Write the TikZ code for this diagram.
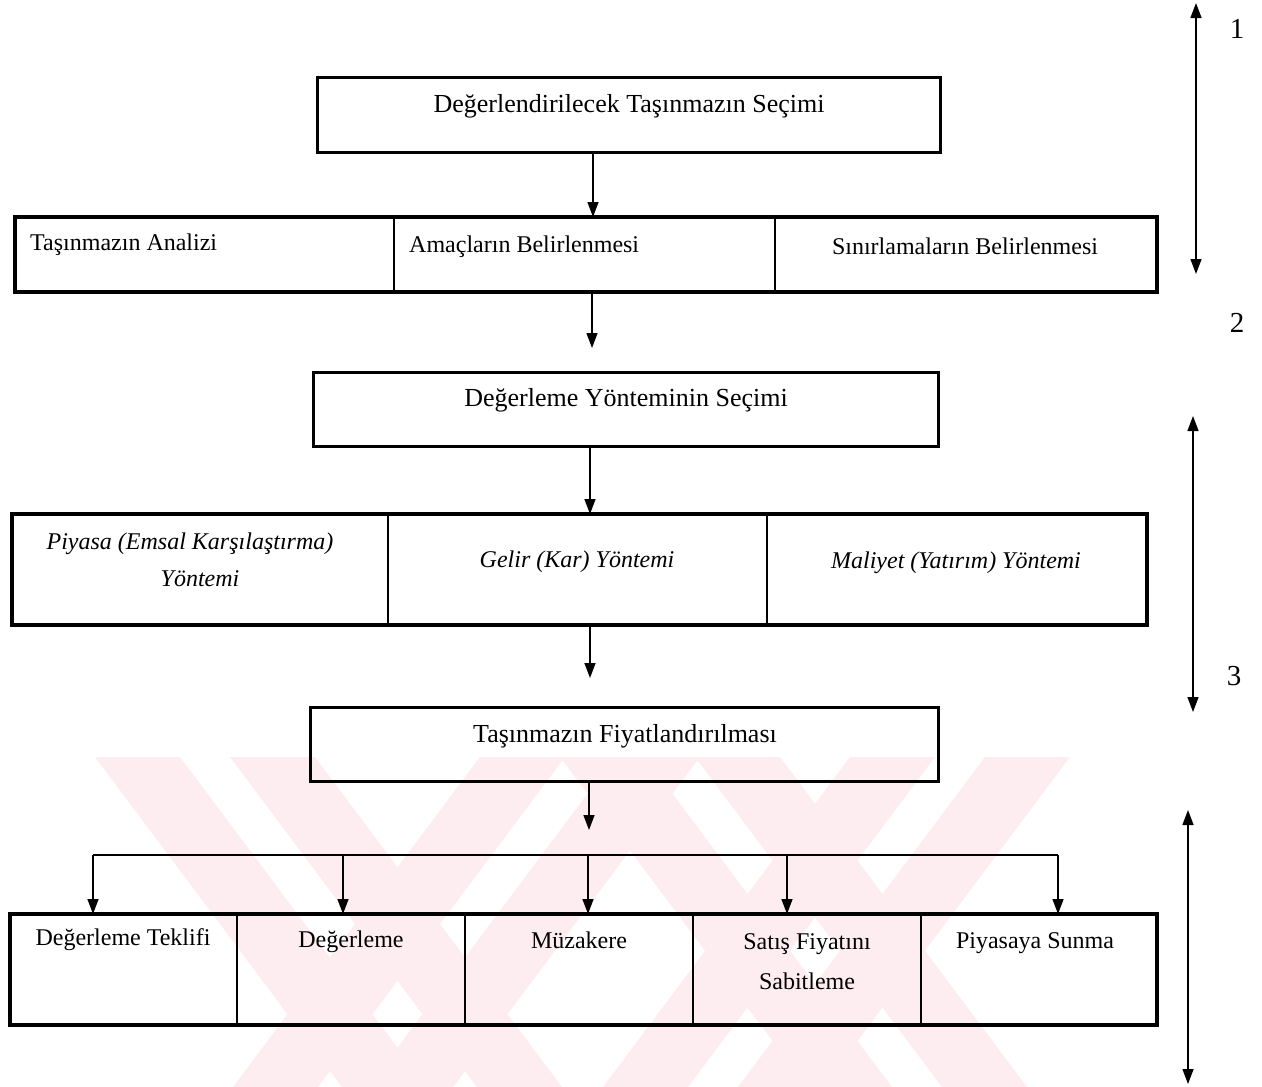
\documentclass[tikz,border=0pt]{standalone}
\usepackage{fontspec}
\setmainfont{Liberation Serif}
\usetikzlibrary{arrows.meta}

\definecolor{wmpink}{RGB}{253,236,240}

\tikzset{
  box/.style={draw, line width=3pt, inner sep=0pt, outer sep=0pt},
  frame/.style={draw, line width=3.4pt, inner sep=0pt, outer sep=0pt},
  cell/.style={draw, line width=1.4pt, inner sep=0pt, outer sep=0pt},
  boxtext/.style={font=\fontsize{26}{30}\selectfont, inner sep=0pt, anchor=base},
  celltext/.style={font=\fontsize{24}{28}\selectfont, inner sep=0pt, anchor=base},
  numtext/.style={font=\fontsize{29}{32}\selectfont, inner sep=0pt, anchor=base},
  conn/.style={line width=1.4pt, -{Triangle[length=15pt,width=11pt]}},
  bus/.style={line width=1.4pt},
  span/.style={line width=1.4pt, {Triangle[length=15pt,width=11pt]}-{Triangle[length=15pt,width=11pt]}},
  band/.style={fill=wmpink, draw=none},
}

\begin{document}
\begin{tikzpicture}[x=1pt, y=-1pt]
\useasboundingbox (0,0) rectangle (1262,1087);

% faint striped emblem behind the lower part
\begin{scope}
  \clip (0,757) rectangle (1262,1087);
  \foreach \a in {95,230,560,695}
    \fill[band] (\a,757) -- (\a+85,757) -- (\a+332,1087) -- (\a+247,1087) -- cycle;
  \foreach \a in {480,615,850,985}
    \fill[band] (\a,757) -- (\a+85,757) -- (\a-162,1087) -- (\a-247,1087) -- cycle;
\end{scope}

% ---------- step 1: selection of the property ----------
\node[box, minimum width=623pt, minimum height=75pt] (sel) at (628.5,114.5) {};
\node[boxtext] (selt) at (629,112) {Değerlendirilecek Taşınmazın Seçimi};

% analysis row
\node[cell, minimum width=379pt, minimum height=75pt] (r1a) at (204.5,254.5) {};
\node[cell, minimum width=381pt, minimum height=75pt] (r1b) at (584.5,254.5) {};
\node[cell, minimum width=382pt, minimum height=75pt] (r1c) at (966,254.5) {};
\node[frame, minimum width=1142pt, minimum height=75pt] (r1) at (586,254.5) {};
\node[celltext, anchor=base west] (r1at) at (30,250) {Taşınmazın Analizi};
\node[celltext, anchor=base west] (r1bt) at (409,252) {Amaçların Belirlenmesi};
\node[celltext] (r1ct) at (965,254) {Sınırlamaların Belirlenmesi};

% ---------- step 2: choice of valuation method ----------
\node[box, minimum width=625pt, minimum height=74pt] (meth) at (625.5,409) {};
\node[boxtext] (metht) at (626,406) {Değerleme Yönteminin Seçimi};

% method row
\node[cell, minimum width=376pt, minimum height=111pt] (r2a) at (200,569.5) {};
\node[cell, minimum width=379pt, minimum height=111pt] (r2b) at (577.5,569.5) {};
\node[cell, minimum width=380pt, minimum height=111pt] (r2c) at (957,569.5) {};
\node[frame, minimum width=1135pt, minimum height=111pt] (r2) at (579.5,569.5) {};
\node[celltext, font=\fontsize{24}{28}\selectfont\itshape] (r2at) at (190,549) {Piyasa (Emsal Karşılaştırma)};
\node[celltext, font=\fontsize{24}{28}\selectfont\itshape] (r2at2) at (200,586) {Yöntemi};
\node[celltext, font=\fontsize{24}{28}\selectfont\itshape] (r2bt) at (577,567) {Gelir (Kar) Yöntemi};
\node[celltext, font=\fontsize{24}{28}\selectfont\itshape] (r2ct) at (956,568) {Maliyet (Yatırım) Yöntemi};

% ---------- step 3: pricing ----------
\node[box, minimum width=628pt, minimum height=74pt] (price) at (624,744) {};
\node[boxtext] (pricet) at (625,742) {Taşınmazın Fiyatlandırılması};

% pricing row
\node[cell, minimum width=227pt, minimum height=111pt] (r3a) at (123.5,969.5) {};
\node[cell, minimum width=228pt, minimum height=111pt] (r3b) at (351,969.5) {};
\node[cell, minimum width=228pt, minimum height=111pt] (r3c) at (579,969.5) {};
\node[cell, minimum width=228pt, minimum height=111pt] (r3d) at (807,969.5) {};
\node[cell, minimum width=236pt, minimum height=111pt] (r3e) at (1039,969.5) {};
\node[frame, minimum width=1147pt, minimum height=111pt] (r3) at (583.5,969.5) {};
\node[celltext] (r3at) at (123,945) {Değerleme Teklifi};
\node[celltext] (r3bt) at (351,947) {Değerleme};
\node[celltext] (r3ct) at (579,948) {Müzakere};
\node[celltext] (r3dt) at (807,949) {Satış Fiyatını};
\node[celltext] (r3dt2) at (807,989) {Sabitleme};
\node[celltext] (r3et) at (1035,948) {Piyasaya Sunma};

% ---------- vertical flow ----------
\draw[conn] ([xshift=-35.5pt]sel.south) -- ([xshift=-35.5pt]sel.south |- r1.north);
\coordinate (a2) at (592,348);
\draw[conn] (a2 |- r1.south) -- (a2);
\draw[conn] ([xshift=-35.5pt]meth.south) -- ([xshift=-35.5pt]meth.south |- r2.north);
\coordinate (a4) at (590,678);
\draw[conn] (a4 |- r2.south) -- (a4);
\coordinate (a5) at (589,830);
\draw[conn] (a5 |- price.south) -- (a5);

% distribution bus to the pricing steps
\coordinate (b1) at (93,855);
\coordinate (b2) at (343,855);
\coordinate (b3) at (588,855);
\coordinate (b4) at (787,855);
\coordinate (b5) at (1058,855);
\draw[bus] (b1) -- (b5);
\foreach \b in {b1,b2,b3,b4,b5}
  \draw[conn] (\b) -- (\b |- r3.north);

% ---------- phase markers on the right ----------
\coordinate (s1t) at (1196,3);
\coordinate (s1b) at (1196,274);
\draw[span] (s1t) -- (s1b);
\coordinate (s2t) at (1193,416);
\coordinate (s2b) at (1193,712);
\draw[span] (s2t) -- (s2b);
\coordinate (s3t) at (1188,810);
\coordinate (s3b) at (1188,1084);
\draw[span] (s3t) -- (s3b);

\node[numtext] (n1) at (1237,38) {1};
\node[numtext] (n2) at (1237,332) {2};
\node[numtext] (n3) at (1234,685) {3};
\end{tikzpicture}
\end{document}
